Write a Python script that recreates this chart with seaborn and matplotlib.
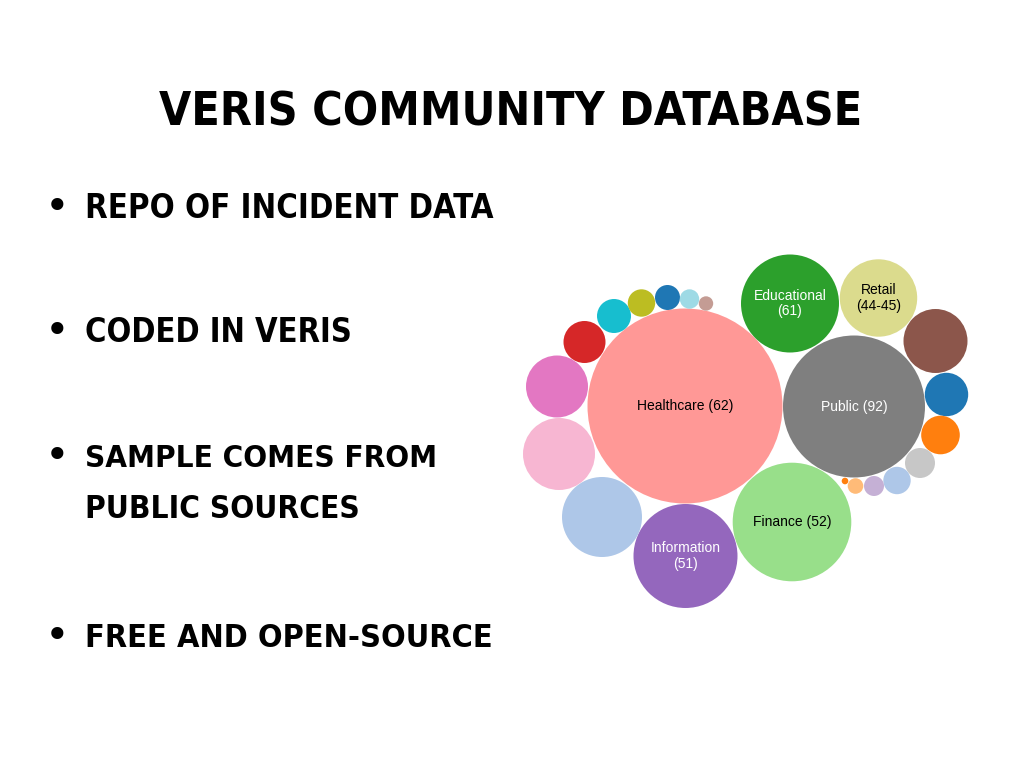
import matplotlib
matplotlib.use("Agg")
import matplotlib.pyplot as plt
from matplotlib import font_manager
import seaborn as sns
import pandas as pd

# ---------------- data ----------------
title = "VERIS COMMUNITY DATABASE"
bullets = ["REPO OF INCIDENT DATA", "CODED IN VERIS", "SAMPLE COMES FROM", "FREE AND OPEN-SOURCE"]
bullet_cont = {2: "PUBLIC SOURCES"}

bubble_ids = ["Healthcare", "Public", "Educational", "Retail", "b5", "b6", "b7", "b8",
              "b9", "b10", "b11", "b12", "Finance", "Information", "b15", "b16",
              "b17", "b18", "b19", "b20", "b21", "b22", "b23"]
bubble_labels = ["Healthcare (62)", "Public (92)", "Educational\n(61)", "Retail\n(44-45)",
                 "", "", "", "", "", "", "", "", "Finance (52)", "Information\n(51)",
                 "", "", "", "", "", "", "", "", ""]
bubble_x = [685, 854, 790, 878.5, 935.5, 946.5, 940.5, 920, 897, 874, 855.5, 845,
            792, 685.5, 602, 559, 557, 584.5, 614, 641.5, 667.5, 689.5, 706]
bubble_y = [406, 406.5, 303.5, 298, 341, 394.5, 435, 463, 480.5, 486, 486, 481,
            522, 556, 517, 454, 386.5, 342, 316, 303, 297.5, 299, 303.5]
bubble_r = [97.5, 71, 49, 38.7, 32, 21.7, 19.3, 15, 13.7, 10, 7.8, 3.3,
            59.3, 52, 40, 36, 31, 21, 17, 13.7, 12.5, 9.7, 7.2]
bubble_colors = ["#ff9896", "#7f7f7f", "#2ca02c", "#dbdb8d", "#8c564b", "#1f77b4",
                 "#ff7f0e", "#c7c7c7", "#aec7e8", "#c5b0d5", "#ffbb78", "#ff7f0e",
                 "#98df8a", "#9467bd", "#aec7e8", "#f7b6d2", "#e377c2", "#d62728",
                 "#17becf", "#bcbd22", "#1f77b4", "#9edae5", "#c49c94"]
label_colors = ["black", "white", "white", "black", "black", "black", "black", "black",
                "black", "black", "black", "black", "black", "white", "black", "black",
                "black", "black", "black", "black", "black", "black", "black"]

# ---------------- fonts ----------------
names = {f.name for f in font_manager.fontManager.ttflist}
condensed = [f for f in font_manager.fontManager.ttflist
             if f.name == "DejaVu Sans" and str(f.stretch) in ("condensed", "semi-condensed", "500", "400") and "Condensed" in f.fname]
if "Liberation Sans Narrow" in names:
    head_font, head_stretch = "Liberation Sans Narrow", "normal"
elif condensed:
    head_font, head_stretch = "DejaVu Sans", "condensed"
else:
    head_font, head_stretch = "Liberation Sans", "normal"
label_font = "Liberation Sans" if "Liberation Sans" in names else "DejaVu Sans"

sns.set_theme(style="white")
plt.rcParams["font.family"] = [label_font, "DejaVu Sans"]

W, H = 1024, 768
fig = plt.figure(figsize=(W / 100, H / 100), dpi=100, facecolor="white")
ax = fig.add_axes([0, 0, 1, 1])
ax.set_xlim(0, W)
ax.set_ylim(H, 0)
ax.axis("off")

df = pd.DataFrame({"id": bubble_ids, "x": bubble_x, "y": bubble_y, "r": bubble_r})
palette = dict(zip(bubble_ids, bubble_colors))
sizes = [(2 * r * 72 / 100) ** 2 for r in bubble_r]
sns.scatterplot(data=df, x="x", y="y", hue="id", palette=palette, s=sizes,
                linewidth=0, legend=False, ax=ax, alpha=1)

for lab, x, y, c in zip(bubble_labels, bubble_x, bubble_y, label_colors):
    if lab:
        ax.text(x, y, lab, ha="center", va="center", color=c, fontsize=10,
                family=label_font, linespacing=1.15)

renderer = fig.canvas.get_renderer()


def fit_text(txt, x, baseline, width, ha="left"):
    t = ax.text(x, baseline, txt, ha=ha, va="baseline", fontsize=40,
                family=head_font, fontstretch=head_stretch, fontweight="bold",
                color="black")
    bb = t.get_window_extent(renderer)
    t.set_fontsize(40 * width / bb.width)
    return t


fit_text(title, 511, 126, 702, ha="center")

bullet_base = [218, 342, 467, 647]
bullet_width = [408, 268, 352, 408]
for i, (txt, yb, w) in enumerate(zip(bullets, bullet_base, bullet_width)):
    ax.text(57, yb - 10, "\u2022", ha="center", va="center", fontsize=30,
            family="DejaVu Sans", color="black")
    fit_text(txt, 85, yb, w)
    if i in bullet_cont:
        fit_text(bullet_cont[i], 85, 518, 275)

fig.savefig("out.png", dpi=100, facecolor="white")
